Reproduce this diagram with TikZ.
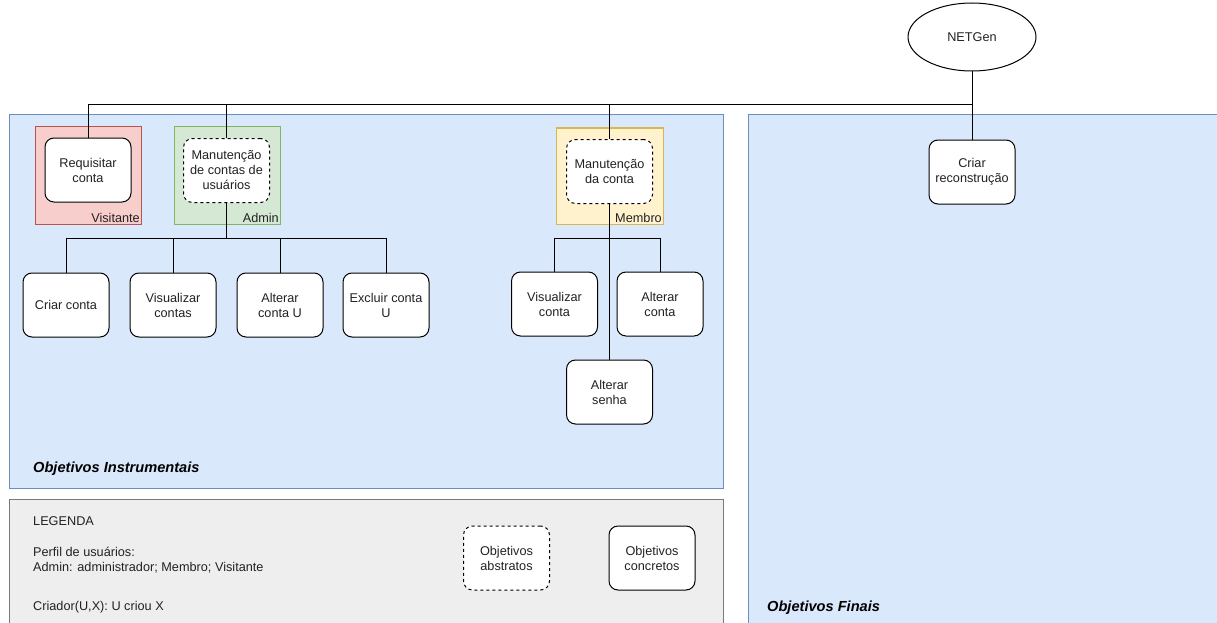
\documentclass[tikz,border=0pt]{standalone}
\usepackage{fontspec}
\setmainfont{Liberation Sans}
\usetikzlibrary{shapes.geometric}

\definecolor{panelfill}{HTML}{DAE8FC}
\definecolor{panelline}{HTML}{6C8EBF}
\definecolor{legfill}{HTML}{EEEEEE}
\definecolor{legline}{HTML}{7A7A7A}
\definecolor{redfill}{HTML}{F8CECC}
\definecolor{redline}{HTML}{B85450}
\definecolor{greenfill}{HTML}{D5E8D4}
\definecolor{greenline}{HTML}{82B366}
\definecolor{yellowfill}{HTML}{FFF2CC}
\definecolor{yellowline}{HTML}{D6B656}
\definecolor{txt}{HTML}{222222}

\tikzset{
  panel/.style={fill=panelfill, draw=panelline, line width=1pt},
  legendpanel/.style={fill=legfill, draw=legline, line width=1pt},
  rolebox/.style={line width=1pt},
  goal/.style={draw=black, fill=white, rounded corners=9pt, line width=1pt,
    minimum width=86pt, minimum height=64pt, inner sep=2pt, align=center,
    text=txt, font=\fontsize{12.7}{15}\selectfont},
  abstract/.style={goal, dash pattern=on 3pt off 3pt},
  root/.style={ellipse, draw=black, fill=white, line width=1pt,
    minimum width=128pt, minimum height=68pt, inner sep=0pt,
    text=txt, font=\fontsize{12.7}{15}\selectfont},
  link/.style={draw=black, line width=1pt},
  rolelabel/.style={anchor=south east, inner sep=1pt, text=txt,
    font=\fontsize{12.7}{14}\selectfont},
  plain/.style={anchor=base west, inner sep=0pt, text=txt,
    font=\fontsize{12.7}{15}\selectfont},
  title/.style={anchor=base west, inner sep=0pt, text=black,
    font=\fontsize{14.6}{17}\selectfont\bfseries\itshape}
}

\begin{document}
\begin{tikzpicture}[x=1pt, y=-1pt]
\useasboundingbox (0,0) rectangle (1217,623);
\clip (0,0) rectangle (1217,623);

% background panels
\draw[panel] (9,115) rectangle (723,488);
\draw[panel] (748,115) rectangle (1230,640);
\draw[legendpanel] (9,499) rectangle (723,640);

% user profile boxes
\draw[rolebox, fill=redfill, draw=redline] (35,127) rectangle (141,224);
\draw[rolebox, fill=greenfill, draw=greenline] (174,127) rectangle (280,224);
\draw[rolebox, fill=yellowfill, draw=yellowline] (556,128) rectangle (663,224);
\node[rolelabel] (lvis) at (141,224) {Visitante};
\node[rolelabel] (ladm) at (280,224) {Admin};
\node[rolelabel] (lmem) at (663,224) {Membro};

% goals
\node[root] (net) at (972,37) {NETGen};
\node[goal] (req) at (88,170) {Requisitar\\conta};
\node[abstract] (madm) at (226.5,170.5) {Manutenção\\de contas de\\usuários};
\node[abstract] (mcon) at (609.5,171.5) {Manutenção\\da conta};
\node[goal] (crec) at (972,172) {Criar\\reconstrução};

\node[goal] (cc) at (66,305) {Criar conta};
\node[goal] (vc) at (173,305) {Visualizar\\contas};
\node[goal] (ac) at (280,305) {Alterar\\conta U};
\node[goal] (ec) at (386,305) {Excluir conta\\U};

\node[goal] (vco) at (554.5,304) {Visualizar\\conta};
\node[goal] (aco) at (660,304) {Alterar\\conta};
\node[goal] (as) at (609.5,392) {Alterar\\senha};

% decomposition links
\coordinate (bus0) at (0,105);
\coordinate (bus1) at (0,238);
\draw[link] (net.south) -- (net.south |- bus0) -| (req.north);
\draw[link] (net.south |- bus0) -| (madm.north);
\draw[link] (net.south |- bus0) -| (mcon.north);
\draw[link] (net.south) -- (crec.north);

\draw[link] (madm.south) -- (madm.south |- bus1) -| (cc.north);
\draw[link] (madm.south |- bus1) -| (vc.north);
\draw[link] (madm.south |- bus1) -| (ac.north);
\draw[link] (madm.south |- bus1) -| (ec.north);

\draw[link] (mcon.south) -- (as.north);
\draw[link] (mcon.south |- bus1) -| (vco.north);
\draw[link] (mcon.south |- bus1) -| (aco.north);

% panel titles
\node[title] (tinst) at (33,472) {Objetivos Instrumentais};
\node[title] (tfin) at (767,611) {Objetivos Finais};

% legend
\node[plain] (leg) at (33,525) {LEGENDA};
\node[plain] (perf) at (33,556) {Perfil de usuários:};
\node[plain] (perf2) at (33,571) {Admin: administrador; Membro; Visitante};
\node[plain] (criad) at (33,610) {Criador(U,X): U criou X};
\node[abstract] (labs) at (506.5,558) {Objetivos\\abstratos};
\node[goal] (lcon) at (652,558) {Objetivos\\concretos};
\end{tikzpicture}
\end{document}
